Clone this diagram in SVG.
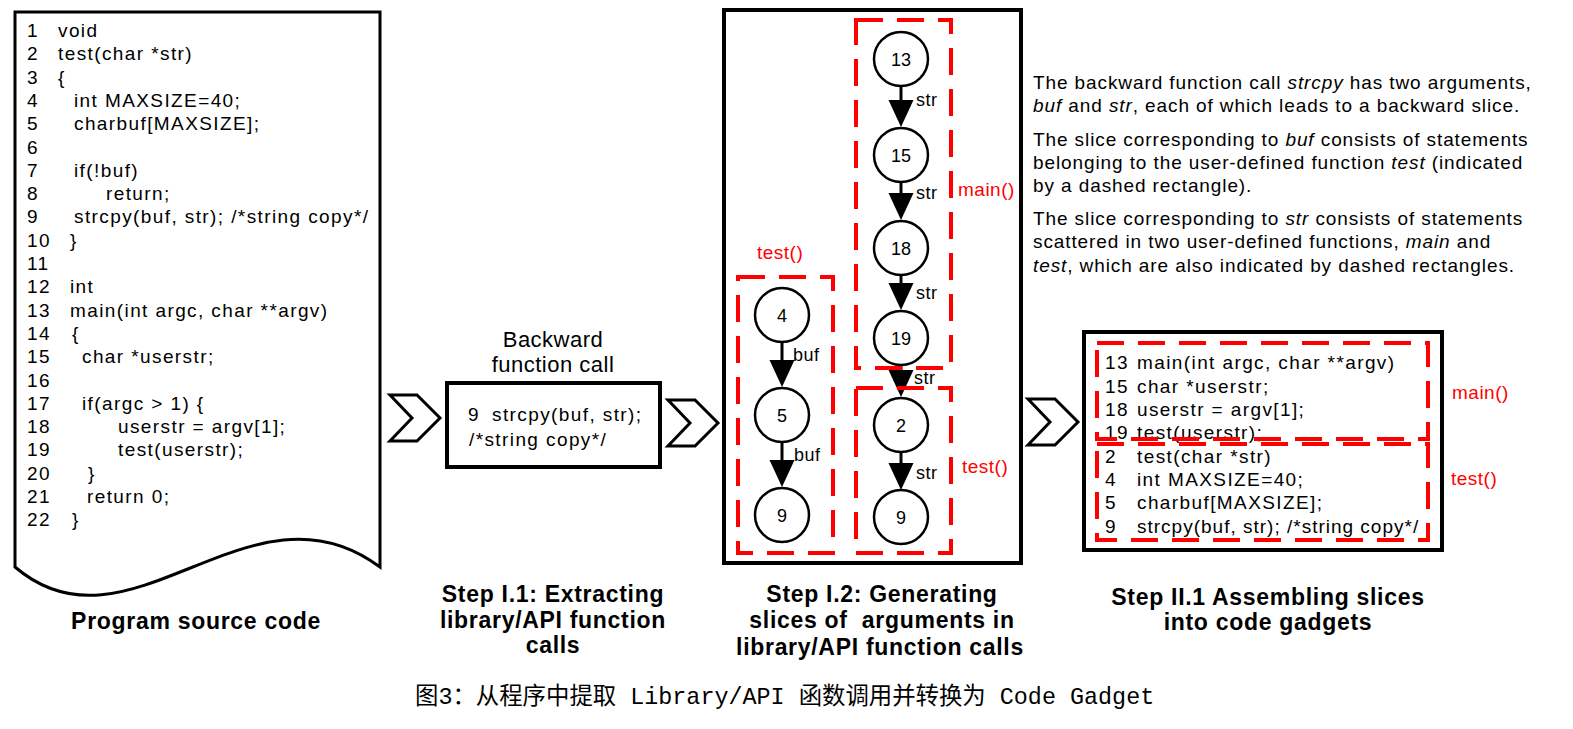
<svg xmlns="http://www.w3.org/2000/svg" width="1573" height="729" viewBox="0 0 1573 729">
<style>
  text { font-family: "Liberation Sans", Arial, sans-serif; fill: #000; }
  .code { font-size: 19px; letter-spacing: 1.4px; }
  .para { font-size: 19px; letter-spacing: 0.9px; }
  .lbl { font-size: 22px; letter-spacing: 0.5px; }
  .step { font-size: 23px; font-weight: bold; text-anchor: middle; letter-spacing: 0.7px; }
  .red { fill: #ff0000; font-size: 19px; letter-spacing: 0.5px; }
  .num { font-size: 18px; text-anchor: middle; }
  .edge { font-size: 18px; letter-spacing: 0.5px; }
  .box { fill: #fff; stroke: #000; stroke-width: 4; }
  .dash { fill: none; stroke: #ff0000; stroke-width: 4; stroke-dasharray: 27 14; }
  .node { fill: #fff; stroke: #000; stroke-width: 2.5; }
  .chev { fill: #fff; stroke: #000; stroke-width: 3; stroke-linejoin: miter; }
  .ln { stroke: #000; stroke-width: 3; }
  .cap { font-family: "Liberation Mono", "Noto Sans CJK SC", monospace; font-size: 23.4px; }
</style>
<defs>
  <polygon id="ah" points="-12.5,0 12.5,0 0,27" fill="#000"/>
  <polygon id="chevron" points="0,0 27,0 50,23 27,46 0,46 22,23"/>
</defs>
<rect width="1573" height="729" fill="#fff"/>

<!-- Program source code -->
<g id="source">
  <path d="M15,12 H380 V567 C250,470 130,665 15,567 Z" fill="#fff" stroke="#000" stroke-width="3"/>
  <g class="code">
    <text x="27" y="37">1</text><text x="58" y="37">void</text>
    <text x="27" y="60.3">2</text><text x="58" y="60.3">test(char *str)</text>
    <text x="27" y="83.6">3</text><text x="58" y="83.6">{</text>
    <text x="27" y="106.9">4</text><text x="74" y="106.9">int MAXSIZE=40;</text>
    <text x="27" y="130.2">5</text><text x="74" y="130.2">charbuf[MAXSIZE];</text>
    <text x="27" y="153.5">6</text>
    <text x="27" y="176.8">7</text><text x="74" y="176.8">if(!buf)</text>
    <text x="27" y="200.1">8</text><text x="106" y="200.1">return;</text>
    <text x="27" y="223.4">9</text><text x="74" y="223.4">strcpy(buf, str); /*string copy*/</text>
    <text x="27" y="246.7">10</text><text x="70" y="246.7">}</text>
    <text x="27" y="270">11</text>
    <text x="27" y="293.3">12</text><text x="70" y="293.3">int</text>
    <text x="27" y="316.6">13</text><text x="70" y="316.6">main(int argc, char **argv)</text>
    <text x="27" y="339.9">14</text><text x="72" y="339.9">{</text>
    <text x="27" y="363.2">15</text><text x="82" y="363.2">char *userstr;</text>
    <text x="27" y="386.5">16</text>
    <text x="27" y="409.8">17</text><text x="82" y="409.8">if(argc &gt; 1) {</text>
    <text x="27" y="433.1">18</text><text x="118" y="433.1">userstr = argv[1];</text>
    <text x="27" y="456.4">19</text><text x="118" y="456.4">test(userstr);</text>
    <text x="27" y="479.7">20</text><text x="88" y="479.7">}</text>
    <text x="27" y="503">21</text><text x="87" y="503">return 0;</text>
    <text x="27" y="526.3">22</text><text x="72" y="526.3">}</text>
  </g>
  <text class="step" x="196" y="629">Program source code</text>
</g>

<!-- chevrons -->
<g id="chevrons" class="chev">
  <use href="#chevron" x="390" y="395"/>
  <use href="#chevron" x="668" y="400"/>
  <use href="#chevron" x="1028" y="399"/>
</g>

<!-- Step I.1 -->
<g id="step11">
  <text class="lbl" x="553" y="347" text-anchor="middle">Backward</text>
  <text class="lbl" x="553" y="372" text-anchor="middle">function call</text>
  <rect class="box" x="447" y="383" width="213" height="84"/>
  <text class="code" x="468" y="421">9</text>
  <text class="code" x="492" y="421">strcpy(buf, str);</text>
  <text class="code" x="469" y="446">/*string copy*/</text>
  <text class="step" x="553" y="602">Step I.1: Extracting</text>
  <text class="step" x="553" y="628">library/API function</text>
  <text class="step" x="553" y="653">calls</text>
</g>

<!-- Step I.2 -->
<g id="step12">
  <rect class="box" x="724" y="10" width="297" height="553"/>
</g>

<g id="connectors">
  <line class="ln" x1="901" y1="86" x2="901" y2="101"/><use href="#ah" x="901" y="100"/>
  <line class="ln" x1="901" y1="182" x2="901" y2="194"/><use href="#ah" x="901" y="193"/>
  <line class="ln" x1="901" y1="275" x2="901" y2="284"/><use href="#ah" x="901" y="283"/>
  <line class="ln" x1="901" y1="365" x2="901" y2="371"/><use href="#ah" x="901" y="370"/>
  <line class="ln" x1="901" y1="452" x2="901" y2="464"/><use href="#ah" x="901" y="463"/>
  <line class="ln" x1="782" y1="342" x2="782" y2="361"/><use href="#ah" x="782" y="360"/>
  <line class="ln" x1="782" y1="442" x2="782" y2="461"/><use href="#ah" x="782" y="460"/>
  <g class="edge">
    <text x="916" y="106">str</text>
    <text x="916" y="199">str</text>
    <text x="916" y="299">str</text>
    <text x="914" y="384">str</text>
    <text x="916" y="479">str</text>
    <text x="793" y="361">buf</text>
    <text x="794" y="461">buf</text>
  </g>
</g>

<g id="n13"><circle class="node" cx="901" cy="59" r="27"/><text class="num" x="901" y="65.5">13</text></g>
<g id="n15"><circle class="node" cx="901" cy="155" r="27"/><text class="num" x="901" y="161.5">15</text></g>
<g id="n18"><circle class="node" cx="901" cy="248" r="27"/><text class="num" x="901" y="254.5">18</text></g>
<g id="n19"><circle class="node" cx="901" cy="338" r="27"/><text class="num" x="901" y="344.5">19</text></g>
<g id="n2"><circle class="node" cx="901" cy="425" r="27"/><text class="num" x="901" y="431.5">2</text></g>
<g id="n9r"><circle class="node" cx="901" cy="517" r="27"/><text class="num" x="901" y="523.5">9</text></g>
<g id="n4"><circle class="node" cx="782" cy="315" r="27"/><text class="num" x="782" y="321.5">4</text></g>
<g id="n5"><circle class="node" cx="782" cy="415" r="27"/><text class="num" x="782" y="421.5">5</text></g>
<g id="n9l"><circle class="node" cx="782" cy="515" r="27"/><text class="num" x="782" y="521.5">9</text></g>

<g id="groups12">
  <rect class="dash" x="856" y="20" width="95" height="348"/>
  <rect class="dash" x="856" y="388" width="95" height="165"/>
  <rect class="dash" x="738" y="277" width="95" height="276"/>
  <text class="red" x="958" y="196">main()</text>
  <text class="red" x="757" y="259">test()</text>
  <text class="red" x="962" y="473">test()</text>
  <text class="step" x="882" y="602">Step I.2: Generating</text>
  <text class="step" x="882" y="628" xml:space="preserve">slices of  arguments in</text>
  <text class="step" x="880" y="655">library/API function calls</text>
</g>

<!-- description -->
<g id="description" class="para">
  <text x="1033" y="89">The backward function call <tspan font-style="italic">strcpy</tspan> has two arguments,</text>
  <text x="1033" y="112"><tspan font-style="italic">buf</tspan> and <tspan font-style="italic">str</tspan>, each of which leads to a backward slice.</text>
  <text x="1033" y="146">The slice corresponding to <tspan font-style="italic">buf</tspan> consists of statements</text>
  <text x="1033" y="169">belonging to the user-defined function <tspan font-style="italic">test</tspan> (indicated</text>
  <text x="1033" y="192">by a dashed rectangle).</text>
  <text x="1033" y="225">The slice corresponding to <tspan font-style="italic">str</tspan> consists of statements</text>
  <text x="1033" y="248">scattered in two user-defined functions, <tspan font-style="italic">main</tspan> and</text>
  <text x="1033" y="272"><tspan font-style="italic">test</tspan>, which are also indicated by dashed rectangles.</text>
</g>

<!-- Step II.1 -->
<g id="step21">
  <rect class="box" x="1084" y="332" width="358" height="218"/>
  <g class="code">
    <text x="1105" y="369">13</text><text x="1137" y="369">main(int argc, char **argv)</text>
    <text x="1105" y="393">15</text><text x="1137" y="393">char *userstr;</text>
    <text x="1105" y="416">18</text><text x="1137" y="416">userstr = argv[1];</text>
    <text x="1105" y="439">19</text><text x="1137" y="439">test(userstr);</text>
    <text x="1105" y="463">2</text><text x="1137" y="463">test(char *str)</text>
    <text x="1105" y="486">4</text><text x="1137" y="486">int MAXSIZE=40;</text>
    <text x="1105" y="509">5</text><text x="1137" y="509">charbuf[MAXSIZE];</text>
    <text x="1105" y="533">9</text><text x="1137" y="533" letter-spacing="1">strcpy(buf, str); /*string copy*/</text>
  </g>
  <rect class="dash" x="1097" y="343" width="331" height="96"/>
  <rect class="dash" x="1097" y="444" width="331" height="96"/>
  <text class="red" x="1452" y="399">main()</text>
  <text class="red" x="1451" y="485">test()</text>
  <text class="step" x="1268" y="605">Step II.1 Assembling slices</text>
  <text class="step" x="1268" y="630">into code gadgets</text>
</g>

<text class="cap" x="415" y="704">图3：从程序中提取 Library/API 函数调用并转换为 Code Gadget</text>
</svg>
